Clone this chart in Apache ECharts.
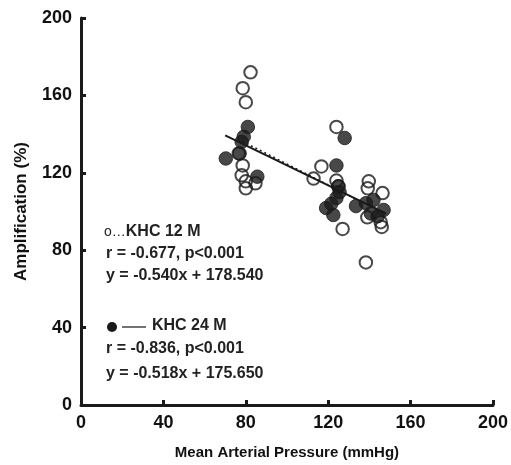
<!DOCTYPE html>
<html>
<head>
<meta charset="utf-8">
<script src="https://cdn.jsdelivr.net/npm/echarts@6/dist/echarts.min.js"></script>
<style>html,body{margin:0;padding:0;background:#fff}#c{width:511px;height:465px}</style>
</head>
<body>
<div id="c"></div>
<script>
// KHC 12 M (open circles): [MAP mmHg, Amplification %]
const khc12 = [
  [82.3, 171.9], [78.5, 163.7], [80, 156.5], [76.6, 130], [78.5, 123.8], [78, 118.7],
  [80, 115.6], [80, 112], [84.7, 114.6],
  [124, 143.7], [116.7, 123.3], [112.9, 117], [124, 116], [125, 113], [127, 91],
  [139.7, 115.6], [139.2, 112], [146.4, 109.5], [139, 97], [145.5, 94.5], [146, 92], [138.3, 73.7]
];
// KHC 24 M (filled circles)
const khc24 = [
  [81, 143.7], [79, 138.6], [78, 136], [70.3, 127.4], [77, 130], [85.6, 118],
  [128, 138], [124, 123.8], [124.9, 113], [124, 107], [121.5, 104], [119, 101.8], [122.5, 98.2],
  [125.5, 110], [133.5, 102.8], [138.3, 104.3], [140.7, 99], [146.9, 100.8], [142, 106], [144, 97.5]
];
// regression lines: [slope, intercept, xStart, xEnd]
const fit12 = [-0.540, 178.540, 76, 148];
const fit24 = [-0.518, 175.650, 70, 148];
const xTicks = [0, 40, 80, 120, 160, 200];
const yTicks = [0, 40, 80, 120, 160, 200];

function lineOf(f) { return [[f[2], f[0] * f[2] + f[1]], [f[3], f[0] * f[3] + f[1]]]; }

const chart = echarts.init(document.getElementById('c'), null, {renderer: 'canvas'});
const font = 'Liberation Sans, Arial, Helvetica, sans-serif';
const axisCommon = {
  min: 0, max: 200, interval: 40,
  axisLine: {show: true, lineStyle: {color: '#1a1a1a', width: 3}},
  axisTick: {show: true, inside: true, length: 5, lineStyle: {color: '#1a1a1a', width: 3}},
  splitLine: {show: false},
  axisLabel: {color: '#111', fontFamily: font, fontWeight: 'bold', fontSize: 18},
  nameTextStyle: {color: '#111', fontFamily: font, fontWeight: 'bold', fontSize: 15}
};
const txt = 'bold 16px ' + font;
chart.setOption({
  animation: false,
  backgroundColor: '#fff',
  grid: {left: 81, right: 13, top: 18, bottom: 56},
  xAxis: Object.assign({}, axisCommon, {
    type: 'value', name: 'Mean Arterial Pressure (mmHg)', nameLocation: 'middle', nameGap: 40,
    axisLabel: Object.assign({}, axisCommon.axisLabel, {margin: 9})
  }),
  yAxis: Object.assign({}, axisCommon, {
    type: 'value', name: 'Amplification (%)', nameLocation: 'middle', nameGap: 51,
    nameTextStyle: Object.assign({}, axisCommon.nameTextStyle, {fontSize: 17}),
    axisLabel: Object.assign({}, axisCommon.axisLabel, {margin: 9})
  }),
  series: [
    {type: 'line', data: lineOf(fit24), symbol: 'none', lineStyle: {color: '#1a1a1a', width: 2}, z: 3},
    {type: 'line', data: lineOf(fit12), symbol: 'none', lineStyle: {color: '#1a1a1a', width: 1.5, type: [2, 3]}, z: 3},
    {type: 'scatter', data: khc24, symbol: 'circle', symbolSize: 13.5,
     itemStyle: {color: '#1a1a1a', borderColor: '#1a1a1a', borderWidth: 1}, z: 4},
    {type: 'scatter', data: khc12, symbol: 'circle', symbolSize: 12.5,
     itemStyle: {color: 'rgba(255,255,255,0)', borderColor: '#1a1a1a', borderWidth: 2}, z: 5}
  ],
  graphic: [
    {type: 'text', left: 104, top: 224, style: {
      text: '{n|o…}{b|KHC 12 M}',
      rich: {n: {fontFamily: font, fontSize: 14, fill: '#222'}, b: {fontFamily: font, fontSize: 16, fontWeight: 'bold', fill: '#222'}}
    }},
    {type: 'text', left: 106, top: 246, style: {text: 'r = -0.677, p<0.001', font: txt, fill: '#222'}},
    {type: 'text', left: 106, top: 268, style: {text: 'y = -0.540x + 178.540', font: txt, fill: '#222'}},
    {type: 'circle', shape: {cx: 112, cy: 327, r: 5}, style: {fill: '#1a1a1a'}},
    {type: 'line', shape: {x1: 122, y1: 327, x2: 146, y2: 327}, style: {stroke: '#444', lineWidth: 1.5}},
    {type: 'text', left: 152, top: 318, style: {text: 'KHC 24 M', font: txt, fill: '#222'}},
    {type: 'text', left: 106, top: 341, style: {text: 'r = -0.836, p<0.001', font: txt, fill: '#222'}},
    {type: 'text', left: 106, top: 366, style: {text: 'y = -0.518x + 175.650', font: txt, fill: '#222'}}
  ]
});
</script>
</body>
</html>
